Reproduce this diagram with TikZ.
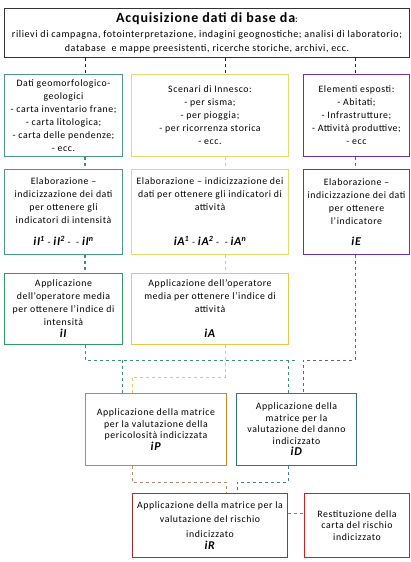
\documentclass[tikz,border=0pt]{standalone}
\usepackage{fontspec}
\setmainfont{Carlito}[LetterSpace=6]
\definecolor{cgreen}{HTML}{4A9A80}
\definecolor{cgreenb}{HTML}{2F9A62}
\definecolor{cyellow}{HTML}{E6D86A}
\definecolor{cyellowb}{HTML}{EEC44A}
\definecolor{cpurple}{HTML}{7030A0}
\definecolor{corange}{HTML}{D9822B}
\definecolor{cblue}{HTML}{31708F}
\definecolor{cred}{HTML}{B8282D}
\definecolor{cred2}{HTML}{E01818}
\definecolor{lgreen}{HTML}{3E8E70}
\definecolor{lyellow}{HTML}{DCCB68}
\definecolor{lpurple}{HTML}{6E5C80}
\definecolor{lorange}{HTML}{A89070}
\definecolor{lblue}{HTML}{4A7A9A}
\definecolor{lred}{HTML}{9A7070}
\newcommand{\bix}[2]{{\fontsize{12}{13}\selectfont\bfseries\itshape #1\textsuperscript{#2}}}
\begin{document}
\begin{tikzpicture}[x=1pt,y=-1pt,
  box/.style={draw=#1, line width=1pt, rectangle, inner sep=0pt, align=center, anchor=north west,
     font=\fontsize{9.8}{13}\selectfont},
  conn/.style={draw=#1, line width=0.8pt, dash pattern=on 3pt off 3pt}]
\useasboundingbox (0,0) rectangle (410,562);
\fill[white] (0,0) rectangle (410,562);

\node[box=black!80, minimum width=405pt, minimum height=49pt, font=\fontsize{10}{14.5}\selectfont] (top) at (4,8)
 {{\fontsize{14}{15}\selectfont\bfseries Acquisizione dati di base da}:\\
 rilievi di campagna, fotointerpretazione, indagini geognostiche; analisi di laboratorio;\\
 database \ e mappe preesistenti, ricerche storiche, archivi, ecc.};

% row 2
\node[box=cgreen, minimum width=118pt, minimum height=82pt] (g2) at (4,74)
 {Dati geomorfologico-\\geologici\\- carta inventario frane;\\- carta litologica;\\- carta delle pendenze;\\- ecc.};
\node[box=cyellow, minimum width=157pt, minimum height=82pt] (y2) at (131,74)
 {Scenari di Innesco:\\- per sisma;\\- per pioggia;\\- per ricorrenza storica\\- ecc.};
\node[box=cpurple, minimum width=106pt, minimum height=82pt] (p2) at (303,74)
 {Elementi esposti:\\- Abitati;\\- Infrastrutture;\\- Attività produttive;\\- ecc};

% row 3
\node[box=cgreen, minimum width=118pt, minimum height=85pt] (g3) at (4,169)
 {Elaborazione –\\indicizzazione dei dati\\per ottenere gli\\indicatori di intensità\\[9pt]
  \bix{iI}{1} - \bix{iI}{2} - \ - \bix{iI}{n}};
\node[box=cyellow, minimum width=157pt, minimum height=85pt] (y3) at (131,169)
 {Elaborazione – indicizzazione dei\\dati per ottenere gli indicatori di\\attività\\[22pt]
  \bix{iA}{1} - \bix{iA}{2} - \ - \bix{iA}{n}};
\node[box=cpurple, minimum width=106pt, minimum height=85pt] (p3) at (303,169)
 {Elaborazione –\\indicizzazione dei dati\\per ottenere\\l'indicatore\\[8pt]\bix{iE}{}};

% row 4
\node[box=cgreenb, minimum width=118pt, minimum height=71pt] (g4) at (4,273)
 {Applicazione\\dell'operatore media\\per ottenere l'indice di\\intensità\\[-1pt]\bix{iI}{}};
\node[box=cyellowb, minimum width=157pt, minimum height=71pt] (y4) at (131,273)
 {Applicazione dell'operatore\\media per ottenere l'indice di\\attività\\[12pt]\bix{iA}{}};

% row 5
\node[box=corange, minimum width=141pt, minimum height=72pt, font=\fontsize{9.8}{11.8}\selectfont] (o5) at (85,393)
 {Applicazione della matrice\\per la valutazione della\\pericolosità indicizzata\\\bix{iP}{}};
\node[box=cblue, minimum width=120pt, minimum height=72pt, font=\fontsize{9.8}{11.5}\selectfont] (b5) at (236,393)
 {Applicazione della\\matrice per la\\valutazione del danno\\indicizzato\\\bix{iD}{}};

% row 6
\node[box=cred, minimum width=155pt, minimum height=64pt, font=\fontsize{9.8}{14.5}\selectfont] (r6) at (132,493)
 {Applicazione della matrice per la\\valutazione del rischio\\indicizzato\\[-2pt]\bix{iR}{}};
\node[box=cred2, minimum width=105pt, minimum height=64pt, font=\fontsize{9.8}{11.8}\selectfont] (s6) at (304,493)
 {Restituzione della\\carta del rischio\\indicizzato};

% x positions of the connectors
\coordinate (xg) at (85,0);
\coordinate (xy) at (225,0);
\coordinate (xp) at (355,0);

% top to row 2
\draw[conn=black!85] (top.south -| xg) -- (g2.north -| xg);
\draw[conn=black!85] (top.south -| xy) -- (y2.north -| xy);
\draw[conn=black!85] (top.south -| xp) -- (p2.north -| xp);
% row 2 to row 3
\draw[conn=lgreen, line width=1.3pt] (g2.south -| xg) -- (g3.north -| xg);
\draw[conn=lyellow] (y2.south -| xy) -- (y3.north -| xy);
\draw[conn=lpurple] (p2.south -| xp) -- (p3.north -| xp);
% row 3 to row 4
\draw[conn=lgreen, line width=1.3pt] (g3.south -| xg) -- (g4.north -| xg);
\draw[conn=lyellow] (y3.south -| xy) -- (y4.north -| xy);

% row 4 to row 5
\coordinate (hg) at (0,360);
\coordinate (hy) at (0,377);
\draw[conn=lgreen] (g4.south -| xg) -- (hg -| xg) -- (hg -| b5.north) ;
\draw[conn=lgreen] (hg -| 122,0) -- (o5.north -| 122,0);
\draw[conn=lgreen] (hg -| 288,0) -- (b5.north -| 288,0);
\draw[conn=lyellow] (y4.south -| xy) -- (hy -| xy) -- (hy -| 132,0) -- (o5.north -| 132,0);
\draw[conn=lpurple] (p3.south -| xp) -- (hg -| xp) -- (hg -| 303,0) -- (b5.north -| 303,0);

% row 5 to row 6
\coordinate (hr) at (0,482);
\draw[conn=lorange] (o5.south -| 132,0) -- (hr -| 132,0) -- (hr -| 226,0) -- (r6.north -| 226,0);
\draw[conn=lblue] (b5.south -| 288,0) -- (hr -| 288,0) -- (hr -| 237,0) -- (r6.north -| 237,0);
\draw[conn=lred] (r6.east |- 0,513) -- (s6.west |- 0,513);
\end{tikzpicture}
\end{document}
